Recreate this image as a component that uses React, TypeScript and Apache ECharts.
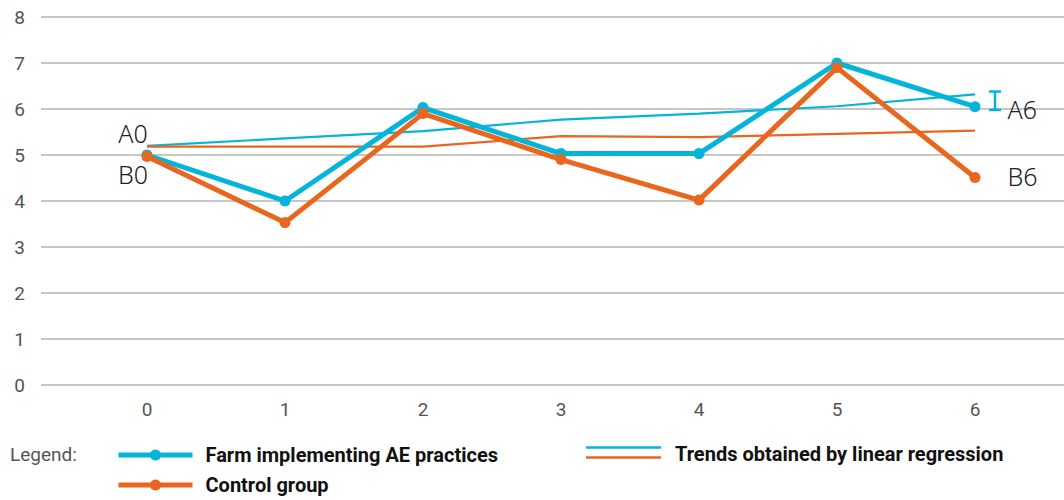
import React, { useEffect, useRef } from "react";
import * as echarts from "echarts";

const periods = [0, 1, 2, 3, 4, 5, 6];
const farmValues = [5.0, 4.0, 6.03, 5.03, 5.03, 7.0, 6.05];
const controlValues = [4.97, 3.53, 5.9, 4.9, 4.02, 6.9, 4.51];
const farmTrend = [5.2, 5.36, 5.52, 5.77, 5.9, 6.06, 6.32];
const controlTrend = [5.18, 5.18, 5.18, 5.41, 5.39, 5.46, 5.53];
const farmPointLabels = ["A0", "", "", "", "", "", "A6"];
const controlPointLabels = ["B0", "", "", "", "", "", "B6"];
const errorBarX = [6.145];
const errorBarLow = [5.98];
const errorBarHigh = [6.38];
const yTicks = [0, 1, 2, 3, 4, 5, 6, 7, 8];

const seriesNames = {
  farm: "Farm implementing AE practices",
  control: "Control group",
  trendTitle: "Trends obtained by linear regression",
  legendTitle: "Legend:",
};

const BLUE = "#05b5d9";
const ORANGE = "#e9661e";
const LABEL_FONT = "'Noto Sans', 'Open Sans', sans-serif";
const AXIS_FONT = "Roboto, 'Liberation Sans', sans-serif";

export default function App() {
  const ref = useRef<HTMLDivElement>(null);

  useEffect(() => {
    if (!ref.current) return;
    const chart = echarts.init(ref.current, null, { renderer: "svg" });

    const pointLabel = (text: string, i: number, isFarm: boolean) => {
      if (!text) return undefined;
      const base = {
        show: true,
        formatter: text,
        fontFamily: LABEL_FONT,
        fontWeight: 300,
        fontSize: 25,
        color: "#222",
      };
      if (i === 0) {
        return {
          ...base,
          position: isFarm ? "top" : "bottom",
          offset: isFarm ? [-14, 1] : [-14, -5],
        };
      }
      return {
        ...base,
        position: "right",
        offset: isFarm ? [22, 2] : [22, -2],
      };
    };

    const buildData = (vals: number[], labels: string[] | null, isFarm: boolean) =>
      periods.map((p, i) => {
        const item: any = { value: [p, vals[i]] };
        if (labels) {
          const l = pointLabel(labels[i], i, isFarm);
          if (l) item.label = l;
        }
        return item;
      });

    const option: any = {
      animation: false,
      grid: { left: 41, right: 0, top: 17, bottom: 115 },
      xAxis: {
        type: "value",
        min: -0.768,
        max: 6.645,
        axisLine: { show: false },
        axisTick: { show: false },
        splitLine: { show: false },
        axisLabel: {
          customValues: periods,
          margin: 15,
          fontSize: 19,
          color: "#555",
          fontFamily: AXIS_FONT,
        },
      },
      yAxis: {
        type: "value",
        min: 0,
        max: 8,
        interval: 1,
        axisLine: { show: false },
        axisTick: { show: false },
        axisLabel: {
          customValues: yTicks,
          margin: 16,
          fontSize: 19,
          color: "#555",
          fontFamily: AXIS_FONT,
        },
        splitLine: { lineStyle: { color: "#c6c6c6", width: 2 } },
      },
      legend: {
        data: [seriesNames.farm, seriesNames.control],
        orient: "vertical",
        left: 116,
        top: 445,
        padding: 0,
        itemWidth: 74,
        itemHeight: 14,
        itemGap: 10,
        selectedMode: false,
        lineStyle: { width: 5 },
        textStyle: {
          fontFamily: AXIS_FONT,
          fontWeight: "bold",
          fontSize: 20,
          lineHeight: 20,
          color: "#111",
          padding: [0, 0, 0, 8],
        },
      },
      graphic: [
        {
          type: "text",
          left: 10,
          top: 445,
          style: {
            text: seriesNames.legendTitle,
            fontFamily: AXIS_FONT,
            fontSize: 19,
            fill: "#555",
          },
        },
        {
          type: "line",
          shape: { x1: 586, y1: 447.5, x2: 661, y2: 447.5 },
          style: { stroke: BLUE, lineWidth: 2.5 },
        },
        {
          type: "line",
          shape: { x1: 586, y1: 457.5, x2: 661, y2: 457.5 },
          style: { stroke: ORANGE, lineWidth: 2.5 },
        },
        {
          type: "text",
          left: 675,
          top: 444,
          style: {
            text: seriesNames.trendTitle,
            fontFamily: AXIS_FONT,
            fontWeight: "bold",
            fontSize: 20,
            fill: "#111",
          },
        },
      ],
      series: [
        {
          name: "Farm trend",
          type: "line",
          data: buildData(farmTrend, null, true),
          showSymbol: false,
          symbol: "none",
          lineStyle: { color: BLUE, width: 2.2 },
          itemStyle: { color: BLUE },
          z: 2,
        },
        {
          name: "Control trend",
          type: "line",
          data: buildData(controlTrend, null, false),
          showSymbol: false,
          symbol: "none",
          lineStyle: { color: ORANGE, width: 2.2 },
          itemStyle: { color: ORANGE },
          z: 2,
        },
        {
          name: seriesNames.farm,
          type: "line",
          data: buildData(farmValues, farmPointLabels, true),
          symbol: "circle",
          symbolSize: 11,
          lineStyle: { color: BLUE, width: 5 },
          itemStyle: { color: BLUE },
          z: 3,
        },
        {
          name: seriesNames.control,
          type: "line",
          data: buildData(controlValues, controlPointLabels, false),
          symbol: "circle",
          symbolSize: 11,
          lineStyle: { color: ORANGE, width: 5 },
          itemStyle: { color: ORANGE },
          z: 4,
        },
        {
          name: "Error bar",
          type: "custom",
          data: errorBarX.map((x, i) => [x, errorBarLow[i], errorBarHigh[i]]),
          encode: { x: 0, y: [1, 2] },
          z: 5,
          renderItem: (params: any, api: any) => {
            const top = api.coord([api.value(0), api.value(2)]);
            const bottom = api.coord([api.value(0), api.value(1)]);
            const hw = 6;
            const st = { stroke: BLUE, lineWidth: 2.5 };
            return {
              type: "group",
              children: [
                { type: "line", shape: { x1: top[0], y1: top[1], x2: bottom[0], y2: bottom[1] }, style: st },
                { type: "line", shape: { x1: top[0] - hw, y1: top[1], x2: top[0] + hw, y2: top[1] }, style: st },
                { type: "line", shape: { x1: bottom[0] - hw, y1: bottom[1], x2: bottom[0] + hw, y2: bottom[1] }, style: st },
              ],
            };
          },
        },
      ],
    };

    chart.setOption(option);
    return () => chart.dispose();
  }, []);

  return <div ref={ref} style={{ width: 1064, height: 500, position: "absolute", left: 0, top: 0 }} />;
}
